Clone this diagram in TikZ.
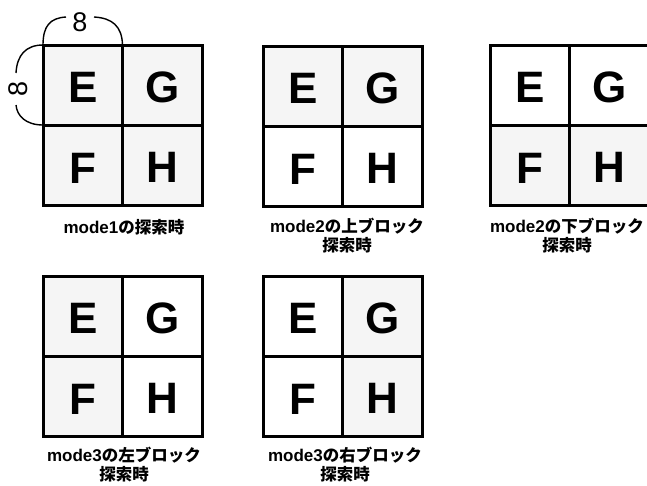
\documentclass[tikz,border=0pt]{standalone}
\usepackage{fontspec}
\setsansfont{Liberation Sans}
\newfontfamily\jpfont{Noto Sans CJK JP}
\newfontfamily\latinb{Liberation Sans}
\newcommand\lat[1]{{\latinb\bfseries\fontsize{17}{19}\selectfont #1}}
\tikzset{
  sh/.style={fill=black!4},
  nosh/.style={},
  gridline/.style={line width=3pt},
  letter/.style={font=\fontsize{44}{44}\selectfont\sffamily\bfseries, inner sep=0pt},
  caption/.style={font=\jpfont\bfseries\fontsize{16.5}{19}\selectfont, align=center, inner sep=0pt},
  dimline/.style={line width=1.4pt},
  dimnum/.style={font=\fontsize{27}{27}\selectfont\sffamily, inner sep=0pt}
}
\newcommand\mygrid[7]{%
  \begin{scope}[shift={(#2,#3)}]
    \path[#4] (0,0) rectangle (79.5,80);
    \path[#5] (79.5,0) rectangle (159,80);
    \path[#6] (0,80) rectangle (79.5,160);
    \path[#7] (79.5,80) rectangle (159,160);
    \draw[gridline] (0,0) rectangle (159,160);
    \draw[gridline] (79.5,0) -- (79.5,160);
    \draw[gridline] (0,80) -- (159,80);
    \coordinate (#1tl) at (0,0);
    \coordinate (#1tm) at (79.5,0);
    \coordinate (#1ml) at (0,80);
    \node[letter] (#1E) at (40,42) {E};
    \node[letter] (#1G) at (119.25,42) {G};
    \node[letter] (#1F) at (40,123) {F};
    \node[letter] (#1H) at (119.25,122) {H};
  \end{scope}}
\begin{document}
\begin{tikzpicture}[x=1pt,y=-1pt]
\useasboundingbox (0,0) rectangle (647,485);
\mygrid{a}{43}{45}{sh}{sh}{sh}{sh}
\mygrid{b}{263}{46}{sh}{sh}{nosh}{nosh}
\mygrid{c}{490}{45}{nosh}{nosh}{sh}{sh}
\mygrid{d}{43}{276}{sh}{nosh}{sh}{nosh}
\mygrid{e}{263}{276}{nosh}{sh}{nosh}{sh}
% dimension marks
\node[dimnum] (topeight) at (80,22) {8};
\node[dimnum, rotate=90] (lefteight) at (18,89) {8};
\draw[dimline] (atl) .. controls (43,26) and (50,18) .. (66,17);
\draw[dimline] (94,17) .. controls (112,18) and (122,26) .. (atm);
\draw[dimline] (atl) .. controls (26,45) and (17,55) .. (16,73);
\draw[dimline] (16,105) .. controls (17,116) and (26,125) .. (aml);
% captions
\node[caption] (capa) at (124,227) {\lat{mode1}の探索時};
\node[caption] (capb) at (347,236) {\lat{mode2}の上ブロック\\探索時};
\node[caption] (capc) at (567,236) {\lat{mode2}の下ブロック\\探索時};
\node[caption] (capd) at (124,465) {\lat{mode3}の左ブロック\\探索時};
\node[caption] (cape) at (345,465) {\lat{mode3}の右ブロック\\探索時};
\end{tikzpicture}
\end{document}
